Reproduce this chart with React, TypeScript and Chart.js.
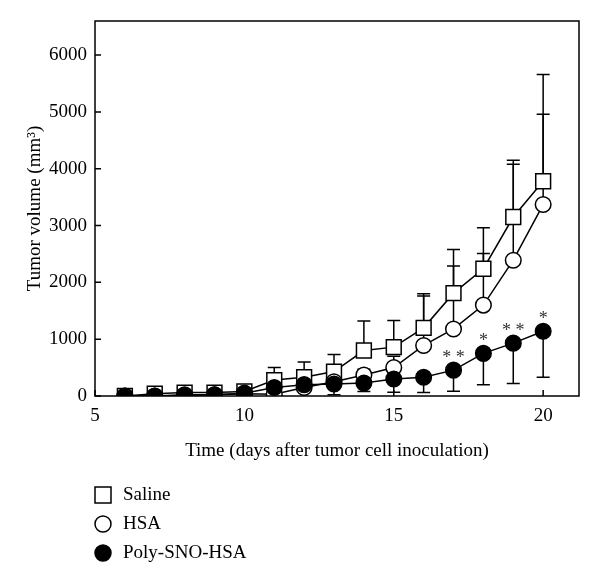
import React, { useEffect, useRef } from "react";
import { Chart, registerables } from "chart.js";
Chart.register(...registerables);

const days = [6, 7, 8, 9, 10, 11, 12, 13, 14, 15, 16, 17, 18, 19, 20];
const salineMean = [0, 40, 60, 60, 80, 280, 330, 430, 800, 860, 1200, 1810, 2240, 3150, 3780];
const salineSD = [0, 0, 0, 0, 0, 220, 270, 300, 520, 470, 600, 770, 720, 1000, 1880];
const hsaMean = [0, 0, 20, 20, 40, 30, 150, 250, 370, 500, 890, 1180, 1600, 2390, 3370];
const hsaSD = [0, 0, 0, 0, 0, 0, 0, 0, 100, 200, 870, 1110, 910, 1690, 1590];
const polyMean = [0, 0, 10, 20, 50, 150, 200, 210, 230, 300, 330, 455, 750, 930, 1140];
const polySD = [0, 0, 0, 0, 0, 0, 0, 190, 150, 233, 270, 370, 553, 710, 810];
const sigDays = [17, 18, 19, 20];
const sigMarks = ["* *", "*", "* *", "*"];
const seriesLabels = ["Saline", "HSA", "Poly-SNO-HSA"];
const xTickValues = [5, 10, 15, 20];
const yTickValues = [0, 1000, 2000, 3000, 4000, 5000, 6000];

const FONT = "'Liberation Serif', 'DejaVu Serif', serif";

const toPoints = (ys: number[]) => days.map((d, i) => ({ x: d, y: ys[i] }));

const errorBars = [
  { mean: salineMean, sd: salineSD, dir: 1 },
  { mean: hsaMean, sd: hsaSD, dir: 1 },
  { mean: polyMean, sd: polySD, dir: -1 },
];

const extrasPlugin = {
  id: "extras",
  beforeDatasetsDraw(chart: any) {
    const { ctx, scales } = chart;
    const xs = scales.x;
    const ys = scales.y;
    ctx.save();
    ctx.strokeStyle = "#000";
    ctx.lineWidth = 1.5;
    errorBars.forEach((eb) => {
      days.forEach((d, i) => {
        if (!eb.sd[i]) return;
        const px = xs.getPixelForValue(d);
        const y0 = ys.getPixelForValue(eb.mean[i]);
        const y1 = ys.getPixelForValue(eb.mean[i] + eb.dir * eb.sd[i]);
        ctx.beginPath();
        ctx.moveTo(px, y0);
        ctx.lineTo(px, y1);
        ctx.moveTo(px - 6.5, y1);
        ctx.lineTo(px + 6.5, y1);
        ctx.stroke();
      });
    });
    ctx.restore();
  },
  afterDraw(chart: any) {
    const { ctx, scales, chartArea } = chart;
    const xs = scales.x;
    const ys = scales.y;
    ctx.save();
    ctx.strokeStyle = "#000";
    ctx.lineWidth = 1.5;
    ctx.strokeRect(chartArea.left, chartArea.top, chartArea.right - chartArea.left, chartArea.bottom - chartArea.top);
    ctx.beginPath();
    yTickValues.forEach((v) => {
      const py = ys.getPixelForValue(v);
      ctx.moveTo(chartArea.left, py);
      ctx.lineTo(chartArea.left + 6, py);
    });
    xTickValues.forEach((v) => {
      const px = xs.getPixelForValue(v);
      ctx.moveTo(px, chartArea.bottom);
      ctx.lineTo(px, chartArea.bottom - 6);
    });
    ctx.stroke();

    // significance marks
    ctx.fillStyle = "#333";
    ctx.font = "18px " + FONT;
    ctx.textAlign = "center";
    ctx.textBaseline = "alphabetic";
    sigDays.forEach((d, i) => {
      const idx = days.indexOf(d);
      const px = xs.getPixelForValue(d);
      const py = ys.getPixelForValue(polyMean[idx]);
      ctx.fillText(sigMarks[i], px, py - 7);
    });

    // legend
    ctx.fillStyle = "#000";
    ctx.font = "19px " + FONT;
    ctx.textAlign = "left";
    ctx.textBaseline = "middle";
    const rowY = [495, 524, 553];
    chart.data.datasets.forEach((ds: any, i: number) => {
      const cy = rowY[i];
      const cx = 103;
      ctx.lineWidth = 1.5;
      ctx.strokeStyle = "#000";
      ctx.fillStyle = ds.pointBackgroundColor;
      ctx.beginPath();
      if (ds.pointStyle === "rect") {
        ctx.rect(cx - 8, cy - 8, 16, 16);
      } else {
        ctx.arc(cx, cy, 8, 0, Math.PI * 2);
      }
      ctx.fill();
      ctx.stroke();
      ctx.fillStyle = "#000";
      ctx.fillText(ds.label, 123, cy);
    });
    ctx.restore();
  },
};

export default function App() {
  const ref = useRef<HTMLCanvasElement>(null);
  useEffect(() => {
    const canvas = ref.current!;
    const mk = (label: string, ys: number[], style: string, bg: string, radius: number, order: number) => ({
      label,
      data: toPoints(ys),
      showLine: true,
      borderColor: "#000",
      borderWidth: 1.5,
      pointStyle: style,
      pointRadius: radius,
      pointHoverRadius: radius,
      pointBackgroundColor: bg,
      pointBorderColor: "#000",
      pointBorderWidth: 1.5,
      order,
    });
    const chart = new Chart(canvas, {
      type: "scatter",
      data: {
        datasets: [
          mk(seriesLabels[0], salineMean, "rect", "#fff", 10.5, 3),
          mk(seriesLabels[1], hsaMean, "circle", "#fff", 7.8, 2),
          mk(seriesLabels[2], polyMean, "circle", "#000", 7.8, 1),
        ] as any,
      },
      options: {
        animation: false,
        responsive: true,
        maintainAspectRatio: false,
        layout: { padding: { left: 0, right: 21, top: 21, bottom: 95 } },
        plugins: { legend: { display: false }, tooltip: { enabled: false } },
        scales: {
          x: {
            type: "linear",
            min: 5,
            max: 21.2,
            grid: { display: false, drawTicks: false },
            border: { display: false },
            ticks: {
              stepSize: 5,
              includeBounds: false,
              padding: 9,
              color: "#000",
              font: { family: FONT, size: 19 },
              callback: (v: any) => String(v),
            },
            afterBuildTicks: (s: any) => {
              s.ticks = xTickValues.map((v) => ({ value: v }));
            },
            afterFit: (s: any) => {
              s.height = 74;
            },
            title: {
              display: true,
              text: "Time (days after tumor cell inoculation)",
              color: "#000",
              font: { family: FONT, size: 19 },
              padding: { top: 0, bottom: 8 },
            },
          },
          y: {
            type: "linear",
            min: 0,
            max: 6600,
            grid: { display: false, drawTicks: false },
            border: { display: false },
            ticks: {
              stepSize: 1000,
              includeBounds: false,
              padding: 8,
              color: "#000",
              font: { family: FONT, size: 19 },
              callback: (v: any) => String(v),
            },
            afterBuildTicks: (s: any) => {
              s.ticks = yTickValues.map((v) => ({ value: v }));
            },
            afterFit: (s: any) => {
              s.width = 95;
            },
            title: {
              display: true,
              text: "Tumor volume (mm³)",
              color: "#000",
              font: { family: FONT, size: 19 },
              padding: { top: 24, bottom: 0 },
            },
          },
        },
      },
      plugins: [extrasPlugin],
    });
    return () => chart.destroy();
  }, []);
  return (
    <div style={{ position: "fixed", left: 0, top: 0, width: 600, height: 565, background: "#fff" }}>
      <canvas ref={ref} />
    </div>
  );
}
